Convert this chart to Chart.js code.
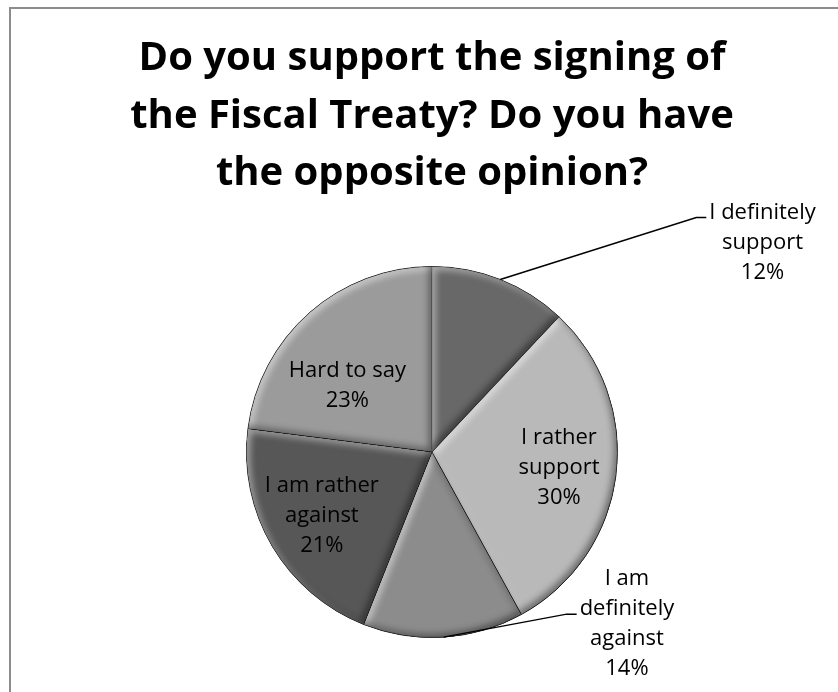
<!DOCTYPE html>
<html>
<head>
<meta charset="utf-8">
<title>Fiscal Treaty</title>
<script src="https://cdn.jsdelivr.net/npm/chart.js@4.4.1/dist/chart.umd.min.js"></script>
<style>
  html, body { margin: 0; padding: 0; background: #fff; }
  canvas { display: block; }
</style>
</head>
<body>
<canvas id="pieChart" width="838" height="692"></canvas>
<script>
// Answers, clockwise from 12 o'clock
const categories = ['I definitely support', 'I rather support', 'I am definitely against', 'I am rather against', 'Hard to say'];
const shares = [12, 30, 14, 21, 23];
const titleLines = ['Do you support the signing of', 'the Fiscal Treaty? Do you have', 'the opposite opinion?'];

// Small slices get their label outside, on a leader line (offset from the rim point)
const callouts = {
    0: { dx: 196, dy: -62, line: 0 },
    2: { dx: 123, dy: -23, line: 1 }
};

function wrapWords(ctx, text, maxWidth) {
    const lines = [];
    let line = '';
    text.split(' ').forEach(word => {
        const test = line ? line + ' ' + word : word;
        if (line && ctx.measureText(test).width > maxWidth) {
            lines.push(line);
            line = word;
        } else {
            line = test;
        }
    });
    lines.push(line);
    return lines;
}

// White background and the grey chart frame
const frame = {
    id: 'frame',
    beforeDraw(chart) {
        const ctx = chart.ctx;
        ctx.save();
        ctx.fillStyle = '#fff';
        ctx.fillRect(0, 0, chart.width, chart.height);
        ctx.strokeStyle = '#8c8c8c';
        ctx.lineWidth = 2;
        ctx.strokeRect(10, 8, chart.width, chart.height);
        ctx.restore();
    }
};

// Soft bevel on every wedge: light on edges facing up-left, dark on edges facing down-right
const bevel = {
    id: 'bevel',
    afterDatasetsDraw(chart) {
        const ctx = chart.ctx;
        chart.getDatasetMeta(0).data.forEach(arc => {
            const { x, y, startAngle, endAngle, outerRadius } = arc;
            const wedge = () => {
                ctx.moveTo(x, y);
                ctx.arc(x, y, outerRadius, startAngle, endAngle);
                ctx.closePath();
            };
            [['rgba(255,255,255,0.55)', 3], ['rgba(0,0,0,0.45)', -3]].forEach(([color, off]) => {
                ctx.save();
                ctx.beginPath();
                wedge();
                ctx.clip();
                ctx.beginPath();
                ctx.rect(0, 0, chart.width, chart.height);
                wedge();
                ctx.shadowColor = color;
                ctx.shadowBlur = 7;
                ctx.shadowOffsetX = off;
                ctx.shadowOffsetY = off;
                ctx.fillStyle = '#000';
                ctx.fill('evenodd');
                ctx.restore();
            });
        });
    }
};

// Category + percentage labels, inside the wedge or on a leader line
const sliceLabels = {
    id: 'sliceLabels',
    afterDatasetsDraw(chart, args, opts) {
        const ctx = chart.ctx;
        const lh = opts.lineHeight;
        ctx.save();
        ctx.font = opts.font;
        ctx.fillStyle = '#000';
        ctx.textAlign = 'center';
        ctx.textBaseline = 'middle';
        chart.getDatasetMeta(0).data.forEach((arc, i) => {
            const { x, y, startAngle, endAngle, outerRadius: R } = arc;
            const mid = (startAngle + endAngle) / 2;
            const lines = wrapWords(ctx, categories[i], opts.wrapWidth);
            lines.push(shares[i] + '%');
            const widths = lines.map(l => ctx.measureText(l).width);
            const callout = callouts[i];
            let cx, top;
            if (callout) {
                const ex = x + Math.cos(mid) * R;
                const ey = y + Math.sin(mid) * R;
                const kx = ex + callout.dx;
                const ky = ey + callout.dy;
                ctx.beginPath();
                ctx.moveTo(ex, ey);
                ctx.lineTo(kx, ky);
                ctx.lineTo(kx + 10, ky);
                ctx.strokeStyle = '#000';
                ctx.lineWidth = 1.5;
                ctx.stroke();
                cx = kx + 13 + Math.max(...widths) / 2;
                top = ky - 5 - callout.line * lh;
            } else {
                const r = R * opts.insideRadius;
                cx = x + Math.cos(mid) * r;
                const cy = y + Math.sin(mid) * r;
                top = cy - (lines.length - 1) * lh / 2;
                // slide the block vertically towards the centre until all lines clear the rim
                const limit = R - opts.rimMargin;
                const fits = t => lines.every((l, j) => {
                    const lx = Math.abs(cx - x) + widths[j] / 2;
                    const ly = Math.abs(t + j * lh - y) + opts.lineClearance;
                    return Math.hypot(lx, ly) <= limit;
                });
                const dir = cy < y ? 1 : -1;
                let guard = 0;
                while (!fits(top) && guard++ < 80) top += dir;
            }
            lines.forEach((l, j) => ctx.fillText(l, cx, top + j * lh));
        });
        ctx.restore();
    }
};

new Chart(document.getElementById('pieChart'), {
    type: 'pie',
    data: {
        labels: categories,
        datasets: [{
            data: shares,
            backgroundColor: ['#686868', '#b9b9b9', '#8c8c8c', '#575757', '#9b9b9b'],
            borderColor: '#4a4a4a',
            borderWidth: 1
        }]
    },
    options: {
        responsive: false,
        animation: false,
        layout: { padding: { left: 26, right: 0, top: 0, bottom: 54 } },
        plugins: {
            legend: { display: false },
            tooltip: { enabled: false },
            title: {
                display: true,
                text: titleLines,
                color: '#000',
                font: { family: '"Open Sans", Lato, sans-serif', size: 40, weight: 'bold', lineHeight: '57.5px' },
                padding: { top: 30, bottom: 63.5 }
            },
            sliceLabels: {
                font: '22px "Open Sans", Lato, sans-serif',
                lineHeight: 30,
                wrapWidth: 135,
                insideRadius: 0.69,
                rimMargin: 8.5,
                lineClearance: 23
            }
        }
    },
    plugins: [frame, bevel, sliceLabels]
});
</script>
</body>
</html>
